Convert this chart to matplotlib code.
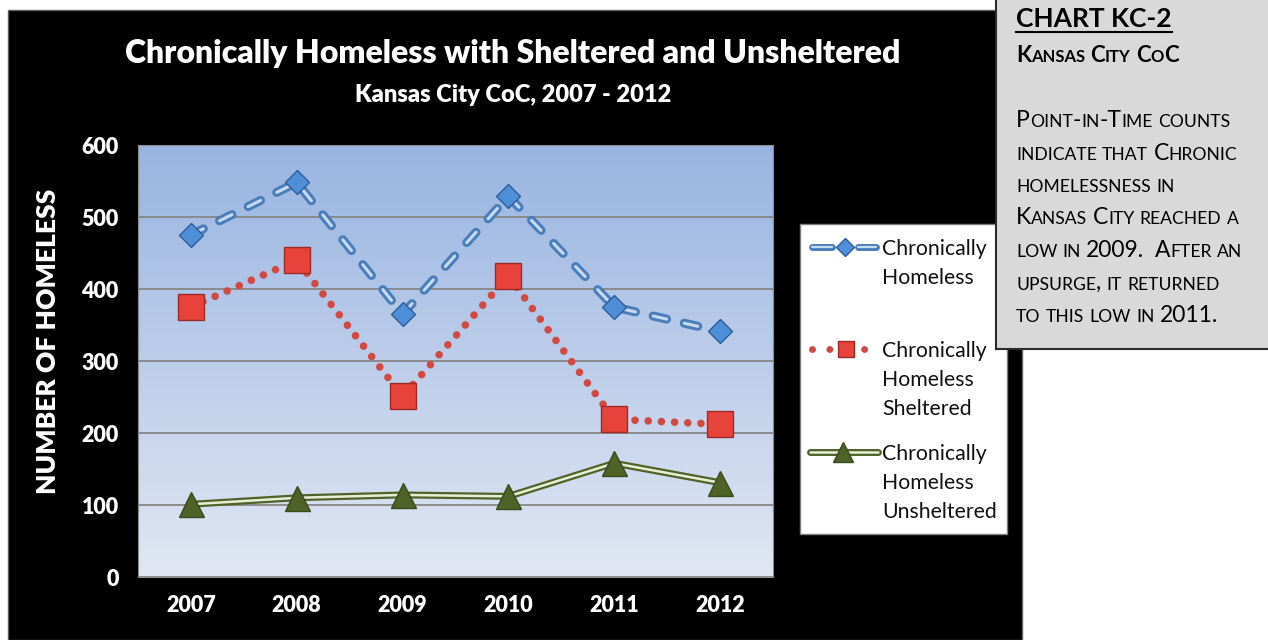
import numpy as np
import matplotlib
matplotlib.use('Agg')
import matplotlib.pyplot as plt
from matplotlib.patches import Rectangle
from matplotlib.lines import Line2D
from matplotlib.colors import LinearSegmentedColormap

# data
years = ['2007', '2008', '2009', '2010', '2011', '2012']
total = [475, 548, 365, 529, 375, 341]
sheltered = [375, 440, 251, 418, 219, 212]
unsheltered = [101, 110, 114, 112, 158, 131]
series_labels = [['Chronically', 'Homeless'],
                 ['Chronically', 'Homeless', 'Sheltered'],
                 ['Chronically', 'Homeless', 'Unsheltered']]
y_ticks = [0, 100, 200, 300, 400, 500, 600]

note_title = 'CHART KC-2'
note_sub = 'Kansas City CoC'
note_lines = ['Point-in-Time counts',
              'indicate that Chronic',
              'homelessness in',
              'Kansas City reached a',
              'low in 2009.  After an',
              'upsurge, it returned',
              'to this low in 2011.']

W, H = 1268, 640
plt.rcParams['font.family'] = ['Lato', 'DejaVu Sans']
plt.rcParams['lines.scale_dashes'] = False

fig = plt.figure(figsize=(W / 100, H / 100), dpi=100)
fig.patch.set_facecolor('white')
renderer = fig.canvas.get_renderer()


def fx(px):
    return px / W


def fy(py):
    return 1 - py / H


# black chart area
fig.add_artist(Rectangle((fx(8), 0), fx(1022) - fx(8), fy(10),
                         transform=fig.transFigure, fc='black', ec='#606060',
                         lw=1, zorder=-5))

ax = fig.add_axes([fx(138), fy(577), (773 - 138) / W, (577 - 145) / H])
cmap = LinearSegmentedColormap.from_list('bg', ['#e1e7f3', '#98b4e1'])
ax.imshow(np.linspace(0, 1, 256)[::-1].reshape(-1, 1), cmap=cmap,
          extent=[0, 1, 0, 1], transform=ax.transAxes, aspect='auto', zorder=0)

x = np.arange(len(years))

# total: blue double dashed line
blue_dash = (0, (10, 13))
ax.plot(x, total, color='#4a7ebb', lw=6.5, ls=blue_dash,
        dash_capstyle='round', zorder=3)
ax.plot(x, total, color='#c8daf0', lw=2.2, ls=blue_dash,
        dash_capstyle='round', zorder=3.1)
ax.plot(x, total, ls='none', marker='D', ms=12.5, mfc='#4f8fd8',
        mec='#2c5d9a', mew=1, zorder=5)

# sheltered: red dotted
ax.plot(x, sheltered, color='#d04a45', lw=5.5, ls=(0, (0.01, 9.5)),
        dash_capstyle='round', zorder=3)
ax.plot(x, sheltered, ls='none', marker='s', ms=19, mfc='#e8423d',
        mec='#9c2a27', mew=1, zorder=5)

# unsheltered: green double line
ax.plot(x, unsheltered, color='#4f6228', lw=5, zorder=3)
ax.plot(x, unsheltered, color='#e6eed6', lw=1.8, zorder=3.1)
ax.plot(x, unsheltered, ls='none', marker='^', ms=18, mfc='#4f6228',
        mec='#3a4a1c', mew=1, zorder=5)

ax.set_xlim(-0.5, 5.5)
ax.set_ylim(0, 600)
ax.set_yticks(y_ticks)
ax.set_xticks(x, years)
ax.tick_params(length=0, colors='white', labelsize=15.5)
ax.tick_params(axis='y', pad=14)
ax.tick_params(axis='x', pad=13)
for lab in ax.get_xticklabels() + ax.get_yticklabels():
    lab.set_fontweight('heavy')
ax.yaxis.grid(True, color='#868686', lw=1.3)
ax.set_axisbelow(True)
for sp in ax.spines.values():
    sp.set_color('#8c8c8c')

fig.text(fx(48), fy(341), 'NUMBER OF HOMELESS', rotation=90, ha='center',
         va='center', color='white', fontsize=19, fontweight='heavy')
fig.text(fx(513), fy(53), 'Chronically Homeless with Sheltered and Unsheltered',
         ha='center', va='center', color='white', fontsize=23, fontweight='heavy')
fig.text(fx(513), fy(95), 'Kansas City CoC, 2007 - 2012', ha='center',
         va='center', color='white', fontsize=17, fontweight='heavy')

# legend box
fig.add_artist(Rectangle((fx(800), fy(534)), (1007 - 800) / W, (534 - 224) / H,
                         transform=fig.transFigure, fc='white', ec='#808080',
                         lw=1, zorder=2))
tf = fig.transFigure
base = [255, 357, 460]
for i, lines in enumerate(series_labels):
    hy = fy(base[i] - 8)
    if i == 0:
        for a, b in [(812, 832), (858, 876)]:
            fig.add_artist(Line2D([fx(a), fx(b)], [hy, hy], transform=tf, color='#4a7ebb',
                                  lw=5, solid_capstyle='round', zorder=3))
            fig.add_artist(Line2D([fx(a), fx(b)], [hy, hy], transform=tf, color='#c8daf0',
                                  lw=1.6, solid_capstyle='round', zorder=3.1))
        fig.add_artist(Line2D([fx(845)], [hy], transform=tf, ls='none', marker='D',
                              ms=9, mfc='#4f8fd8', mec='#2c5d9a', zorder=4))
    elif i == 1:
        fig.add_artist(Line2D([fx(812), fx(878)], [hy, hy], transform=tf, color='#d04a45',
                              lw=5, ls=(0, (0.01, 12.5)), dash_capstyle='round', zorder=3))
        fig.add_artist(Line2D([fx(846)], [hy], transform=tf, ls='none', marker='s',
                              ms=11, mfc='#e8423d', mec='#9c2a27', zorder=4))
    else:
        fig.add_artist(Line2D([fx(810), fx(878)], [hy, hy], transform=tf, color='#4f6228',
                              lw=5, solid_capstyle='round', zorder=3))
        fig.add_artist(Line2D([fx(810), fx(878)], [hy, hy], transform=tf, color='#e6eed6',
                              lw=1.8, solid_capstyle='round', zorder=3.1))
        fig.add_artist(Line2D([fx(843)], [hy], transform=tf, ls='none', marker='^',
                              ms=14, mfc='#4f6228', mec='#3a4a1c', zorder=4))
    for j, line in enumerate(lines):
        fig.text(fx(882), fy(base[i] + 29 * j), line, va='baseline', ha='left',
                 fontsize=15.3, color='#111111', zorder=4)

# grey note box
fig.add_artist(Rectangle((fx(996), fy(349)), 300 / W, 360 / H, transform=tf,
                         fc='#d9d9d9', ec='#2b2b2b', lw=1.5, zorder=6))


def small_caps(px, py, s, big, small, weight='normal'):
    cur = px
    space = big * 0.32
    runs = []
    for ch in s:
        kind = 'sp' if ch == ' ' else ('lo' if ch.islower() else 'up')
        if runs and runs[-1][0] == kind:
            runs[-1][1] += ch
        else:
            runs.append([kind, ch])
    for kind, txt in runs:
        if kind == 'sp':
            cur += space * len(txt)
            continue
        size = small if kind == 'lo' else big
        t = fig.text(fx(cur), fy(py), txt.upper(), fontsize=size, va='baseline',
                     ha='left', fontweight=weight, color='black', zorder=7)
        cur += t.get_window_extent(renderer).width
    return cur


t = fig.text(fx(1016), fy(27), note_title, fontsize=19, fontweight='bold',
             va='baseline', ha='left', color='black', zorder=7)
wt = t.get_window_extent(renderer).width
fig.add_artist(Line2D([fx(1016), fx(1016 + wt)], [fy(32), fy(32)], transform=tf,
                      color='black', lw=1.5, zorder=7))
small_caps(1016, 62, note_sub, 16, 12, 'bold')
for k, line in enumerate(note_lines):
    small_caps(1016, 127 + 32.5 * k, line, 16.5, 12.6)

fig.savefig('out.png', dpi=100)
